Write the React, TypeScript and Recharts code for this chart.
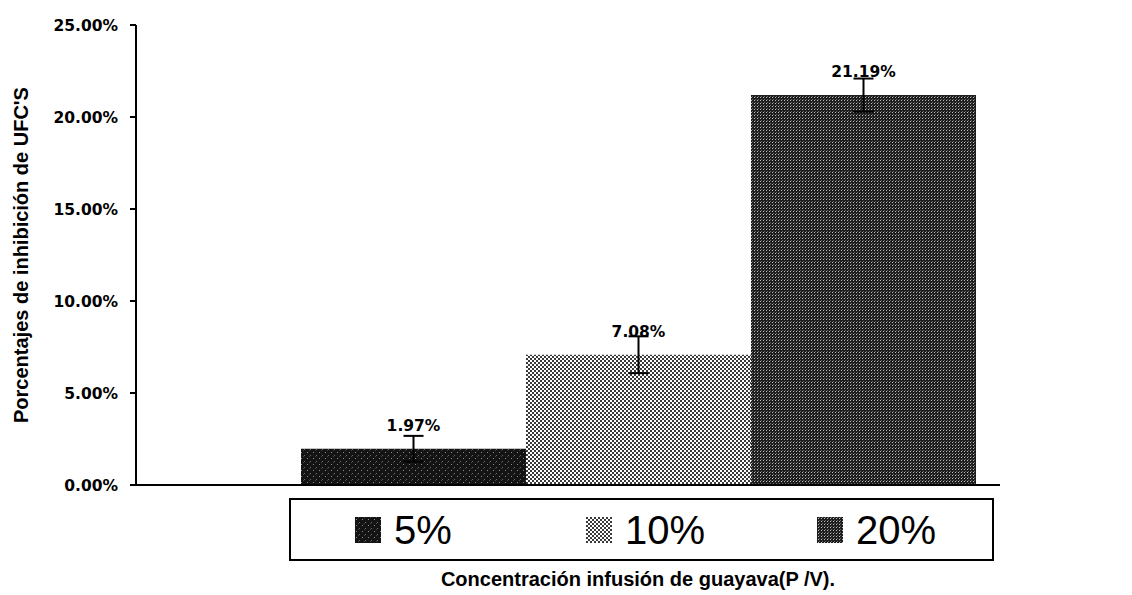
import { BarChart, Bar, XAxis, YAxis, ErrorBar, LabelList, Legend } from 'recharts';

const categories = ['Infusión de guayava'];
const seriesNames = ['5%', '10%', '20%'];
const inhibition5 = [1.97];
const inhibition10 = [7.08];
const inhibition20 = [21.19];
const error5 = [0.7];
const error10 = [1.0];
const error20 = [0.9];
const yTicks = [0, 5, 10, 15, 20, 25];

const data = categories.map((name, i) => ({
  name,
  s5: inhibition5[i],
  s10: inhibition10[i],
  s20: inhibition20[i],
  e5: error5[i],
  e10: error10[i],
  e20: error20[i],
}));

const pct = (v: number) => `${Number(v).toFixed(2)}%`;

const tickFont = {
  fontFamily: '"DejaVu Sans", sans-serif',
  fontWeight: 'bold',
  fontSize: 15.5,
  fill: '#000',
};

const titleFont = {
  fontFamily: '"Liberation Sans", Arial, sans-serif',
  fontWeight: 'bold',
  fontSize: 20,
  fill: '#000',
};

const YTitle = (props: any) => {
  const vb = props.viewBox || { y: 25, height: 460 };
  const cy = vb.y + vb.height / 2;
  return (
    <text
      x={21}
      y={cy}
      transform={`rotate(-90 21 ${cy})`}
      textAnchor="middle"
      dominantBaseline="central"
      style={titleFont}
    >
      Porcentajes de inhibición de UFC'S
    </text>
  );
};

const XTitle = () => (
  <text x={638} y={586} textAnchor="middle" style={titleFont}>
    Concentración infusión de guayava(P /V).
  </text>
);

// keep legend in series order, not alphabetical
const renderLegend = (props: any) => {
  const items = [...(props.payload || [])].sort(
    (a: any, b: any) => seriesNames.indexOf(a.value) - seriesNames.indexOf(b.value)
  );
  return (
    <div
      style={{
        position: 'relative',
        boxSizing: 'border-box',
        width: 705,
        height: 63,
        border: '2px solid #000',
        fontFamily: '"Liberation Sans", Arial, sans-serif',
        fontSize: 40,
        color: '#000',
      }}
    >
      {items.map((entry: any, i: number) => (
        <div
          key={entry.value}
          style={{
            position: 'absolute',
            left: 64 + i * 231,
            top: 0,
            height: 59,
            display: 'flex',
            alignItems: 'center',
          }}
        >
          <svg width={26} height={26} style={{ display: 'block' }}>
            <rect x={0} y={0} width={26} height={26} fill={entry.color} />
          </svg>
          <span style={{ marginLeft: 13, lineHeight: '40px' }}>{entry.value}</span>
        </div>
      ))}
    </div>
  );
};

export default function App() {
  return (
    <div style={{ position: 'absolute', left: 0, top: 0, background: '#fff' }}>
      <BarChart
        width={1132}
        height={595}
        data={data}
        margin={{ top: 25, right: 132, left: 0, bottom: 0 }}
        barCategoryGap={0}
        barGap={0}
      >
        <defs>
          <pattern id="pat5" width={6} height={6} patternUnits="userSpaceOnUse">
            <rect width={6} height={6} fill="#141414" />
            <rect x={1} y={2} width={1} height={1} fill="#8a8a8a" />
            <rect x={4} y={5} width={1} height={1} fill="#6a6a6a" />
            <rect x={3} y={0} width={1} height={1} fill="#444" />
          </pattern>
          <pattern id="pat10" width={4} height={4} patternUnits="userSpaceOnUse">
            <rect width={4} height={4} fill="#ffffff" />
            <rect x={0} y={0} width={2} height={2} fill="#3a3a3a" />
            <rect x={2} y={2} width={2} height={2} fill="#3a3a3a" />
          </pattern>
          <pattern id="pat20" width={3} height={3} patternUnits="userSpaceOnUse">
            <rect width={3} height={3} fill="#1e1e1e" />
            <rect x={1} y={1} width={1} height={1} fill="#bbbbbb" />
            <rect x={2} y={0} width={1} height={1} fill="#666666" />
          </pattern>
        </defs>
        <XAxis
          dataKey="name"
          tick={false}
          tickLine={false}
          axisLine={{ stroke: '#000', strokeWidth: 2 }}
          height={110}
          padding={{ left: 165, right: 25 }}
          label={<XTitle />}
        />
        <YAxis
          width={136}
          domain={[0, 25]}
          ticks={yTicks}
          interval={0}
          tickFormatter={pct}
          tick={tickFont}
          tickSize={6}
          tickMargin={12}
          tickLine={{ stroke: '#000', strokeWidth: 2 }}
          axisLine={{ stroke: '#000', strokeWidth: 2 }}
          label={<YTitle />}
        />
        <Legend
          layout="horizontal"
          verticalAlign="middle"
          align="center"
          content={renderLegend}
          wrapperStyle={{ position: 'absolute', left: 289, top: 498, width: 705, height: 63 }}
        />
        <Bar dataKey="s5" name={seriesNames[0]} fill="url(#pat5)" isAnimationActive={false}>
          <ErrorBar dataKey="e5" width={10} stroke="#000" strokeWidth={2} />
          <LabelList dataKey="s5" position="top" offset={18} formatter={pct} style={tickFont} />
        </Bar>
        <Bar dataKey="s10" name={seriesNames[1]} fill="url(#pat10)" isAnimationActive={false}>
          <ErrorBar dataKey="e10" width={10} stroke="#000" strokeWidth={2} />
          <LabelList dataKey="s10" position="top" offset={18} formatter={pct} style={tickFont} />
        </Bar>
        <Bar dataKey="s20" name={seriesNames[2]} fill="url(#pat20)" isAnimationActive={false}>
          <ErrorBar dataKey="e20" width={10} stroke="#000" strokeWidth={2} />
          <LabelList dataKey="s20" position="top" offset={18} formatter={pct} style={tickFont} />
        </Bar>
      </BarChart>
    </div>
  );
}
